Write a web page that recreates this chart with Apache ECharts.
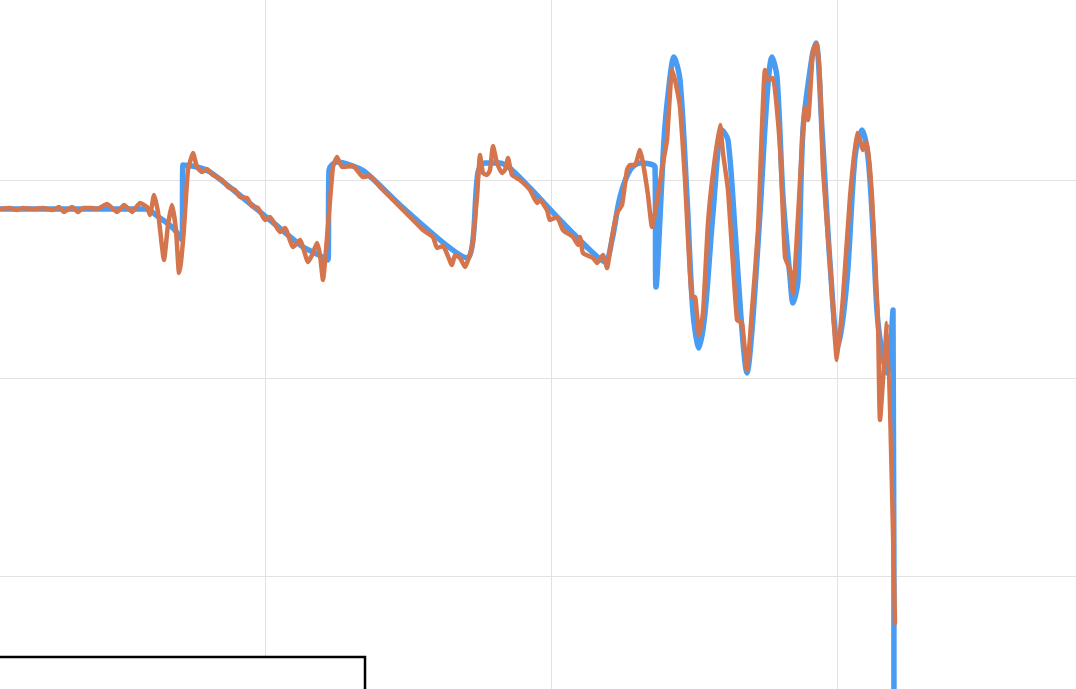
<!DOCTYPE html>
<html>
<head>
<meta charset="utf-8">
<script src="https://cdn.jsdelivr.net/npm/echarts@6/dist/echarts.min.js"></script>
<style>
  html, body { margin: 0; padding: 0; background: #fff; overflow: hidden; width: 1076px; height: 689px; }
  /* the plot is wider than the window: outermost grid lines sit just off screen */
  #chart { position: absolute; left: -21px; top: -18px; width: 1144px; height: 792px; }
</style>
</head>
<body>
<div id="chart"></div>
<script>
// sample positions and readings (axis units)
const blueT = [21, 166, 181, 194, 203, 204, 218, 231, 258, 291, 324, 336, 349, 350, 358, 371, 386, 421, 461, 481,
  489, 494, 499, 506, 521, 533, 551, 581, 611, 626, 633, 641, 651, 661, 671, 676, 677, 685, 689, 695,
  701, 708, 714, 720, 726, 734, 743, 749, 756, 763, 768, 773, 781, 788, 793, 798, 804, 811, 814, 819,
  824, 833, 837, 843, 851, 859, 868, 876, 883, 889, 894, 899, 908, 914, 915]
const blueV = [565, 565, 556, 546, 534, 609, 607, 602, 581, 554, 527, 521, 514, 604, 612, 609, 602, 569, 534, 519,
  516, 534, 602, 611, 611, 604, 586, 554, 524, 512, 534, 577, 604, 611, 610, 607, 487, 634, 679, 717,
  694, 577, 461, 426, 461, 561, 644, 634, 544, 444, 401, 444, 561, 677, 717, 697, 577, 497, 471, 494,
  644, 717, 731, 644, 511, 427, 494, 617, 644, 617, 544, 451, 401, 464, -26]

const orangeT = [21, 31, 38, 44, 54, 64, 73, 80, 85, 93, 99, 104, 113, 118, 128, 138, 145, 153, 161, 168,
  171, 175, 179, 185, 189, 193, 197, 200, 202, 205, 209, 214, 218, 223, 228, 234, 243, 249, 256, 261,
  268, 273, 279, 286, 291, 301, 306, 314, 321, 329, 333, 338, 341, 344, 347, 350, 354, 358, 363, 374,
  384, 391, 401, 411, 424, 434, 444, 454, 458, 464, 473, 476, 481, 486, 493, 498, 501, 504, 508, 511,
  514, 518, 523, 526, 529, 533, 541, 551, 558, 561, 568, 571, 578, 584, 594, 599, 601, 604, 614, 618,
  624, 628, 633, 638, 643, 648, 651, 656, 661, 664, 669, 673, 679, 684, 688, 693, 696, 701, 706, 713,
  716, 720, 724, 729, 734, 741, 744, 749, 758, 763, 768, 773, 779, 786, 789, 794, 801, 806, 811, 814,
  819, 826, 829, 834, 838, 841, 844, 851, 858, 864, 871, 878, 881, 884, 888, 893, 899, 901, 908, 916]
const orangeV = [565, 566, 564, 566, 565, 566, 564, 567, 562, 567, 562, 566, 566, 565, 570, 562, 569, 562, 571, 567,
  559, 579, 562, 514, 549, 569, 544, 501, 512, 546, 604, 621, 607, 602, 605, 599, 594, 587, 584, 577,
  576, 568, 566, 554, 557, 542, 546, 527, 534, 512, 519, 531, 519, 494, 524, 561, 607, 617, 607, 608,
  597, 598, 587, 577, 564, 554, 544, 537, 526, 528, 509, 519, 516, 507, 527, 577, 619, 601, 599, 604,
  628, 611, 601, 604, 616, 599, 594, 584, 571, 574, 564, 554, 557, 544, 537, 529, 537, 521, 516, 511,
  519, 506, 537, 561, 569, 604, 609, 609, 624, 611, 579, 547, 579, 611, 634, 704, 694, 667, 594, 477,
  477, 439, 461, 551, 601, 649, 621, 584, 454, 451, 404, 464, 544, 704, 694, 696, 627, 517, 504, 481,
  557, 667, 654, 724, 731, 694, 604, 511, 414, 477, 577, 641, 634, 624, 632, 577, 451, 354, 451, 151]

// axis grid
const xStep = 286
const yStep = 198

const zip = (t, v) => t.map((x, i) => [x, v[i]])

const chart = echarts.init(document.getElementById('chart'))

const option = {
  animation: false,
  backgroundColor: '#ffffff',
  grid: {
    left: 0,
    right: 0,
    top: 0,
    bottom: 0
  },
  xAxis: {
    type: 'value',
    min: 0,
    max: xStep * 4,
    interval: xStep,
    axisLine: { show: false },
    axisTick: { show: false },
    axisLabel: { show: false },
    splitLine: { show: true, lineStyle: { color: '#e2e2e2', width: 1 } }
  },
  yAxis: {
    type: 'value',
    min: 0,
    max: yStep * 4,
    interval: yStep,
    axisLine: { show: false },
    axisTick: { show: false },
    axisLabel: { show: false },
    splitLine: { show: true, lineStyle: { color: '#e2e2e2', width: 1 } }
  },
  series: [
    {
      name: 'blue',
      type: 'line',
      data: zip(blueT, blueV),
      showSymbol: false,
      smooth: 0.3,
      clip: true,
      lineStyle: { color: '#4a9cf3', width: 5.5, join: 'round', cap: 'round' },
      z: 2
    },
    {
      name: 'orange',
      type: 'line',
      data: zip(orangeT, orangeV),
      showSymbol: false,
      smooth: 0.15,
      clip: true,
      lineStyle: { color: '#d4754e', width: 4.5, join: 'round', cap: 'round' },
      z: 3
    }
  ],
  graphic: [
    {
      type: 'rect',
      z: 100,
      shape: { x: 10, y: 675, width: 376, height: 140 },
      style: { fill: '#ffffff', stroke: '#000000', lineWidth: 2.5 }
    }
  ]
}

chart.setOption(option)
</script>
</body>
</html>
